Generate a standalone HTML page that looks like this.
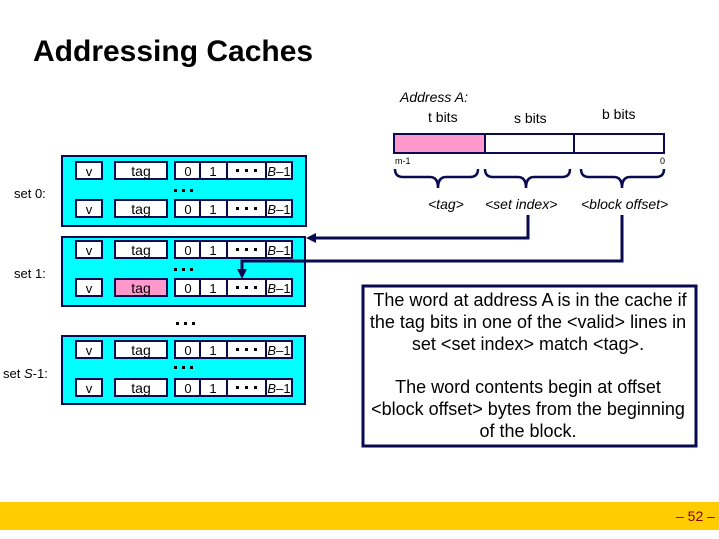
<!DOCTYPE html>
<html><head><meta charset="utf-8"><style>
html,body{margin:0;padding:0;background:#fff;}
svg{display:block;font-family:"Liberation Sans",Arial,sans-serif;}
</style></head><body>
<svg width="719" height="539" viewBox="0 0 719 539" xmlns="http://www.w3.org/2000/svg">
<text x="33" y="61" font-size="30" font-weight="bold" fill="#000">Addressing  Caches</text>

<defs>
<g id="row">
  <rect x="76" y="0" width="26" height="17" fill="#fff" stroke="#0a0a50" stroke-width="2"/>
  <rect x="115" y="0" width="52" height="17" fill="#fff" stroke="#0a0a50" stroke-width="2"/>
  <rect x="175" y="0" width="117" height="17" fill="#fff" stroke="#0a0a50" stroke-width="2"/>
  <line x1="200" y1="0" x2="200" y2="17" stroke="#0a0a50" stroke-width="2"/>
  <line x1="227" y1="0" x2="227" y2="17" stroke="#0a0a50" stroke-width="2"/>
  <line x1="266" y1="0" x2="266" y2="17" stroke="#0a0a50" stroke-width="2"/>
  <text x="89" y="14" font-size="13" text-anchor="middle">v</text>
  <text x="141" y="14" font-size="14" text-anchor="middle">tag</text>
  <text x="188" y="14" font-size="13" text-anchor="middle">0</text>
  <text x="213" y="14" font-size="13" text-anchor="middle">1</text>
  <rect x="236" y="7" width="3" height="3" fill="#000"/>
  <rect x="245" y="7" width="3" height="3" fill="#000"/>
  <rect x="254" y="7" width="3" height="3" fill="#000"/>
  <text x="279" y="14" font-size="13" text-anchor="middle"><tspan font-style="italic">B</tspan>–1</text>
</g>
<g id="dots">
  <rect x="0" y="0" width="3" height="3" fill="#000"/>
  <rect x="8" y="0" width="3" height="3" fill="#000"/>
  <rect x="16" y="0" width="3" height="3" fill="#000"/>
</g>
</defs>

<rect x="62" y="156" width="244" height="70" fill="#00ffff" stroke="#0a0a50" stroke-width="2"/>
<use href="#row" y="162"/>
<use href="#dots" x="174" y="189"/>
<use href="#row" y="200"/>
<text x="14" y="198" font-size="13">set 0:</text>

<rect x="62" y="237" width="243" height="69" fill="#00ffff" stroke="#0a0a50" stroke-width="2"/>
<use href="#row" y="241"/>
<use href="#dots" x="174" y="268"/>
<use href="#row" y="279"/>
<rect x="116" y="280" width="50" height="15" fill="#ff99cc"/>
<text x="141" y="293" font-size="14" text-anchor="middle">tag</text>
<text x="14" y="278" font-size="13">set 1:</text>

<use href="#dots" x="176" y="322"/>

<rect x="62" y="336" width="243" height="68" fill="#00ffff" stroke="#0a0a50" stroke-width="2"/>
<use href="#row" y="341"/>
<use href="#dots" x="174" y="366"/>
<use href="#row" y="379"/>
<text x="3" y="378" font-size="13">set <tspan font-style="italic">S</tspan>-1:</text>

<text x="400" y="102" font-size="14" font-style="italic">Address A:</text>
<text x="428" y="122" font-size="14">t bits</text>
<text x="514" y="123" font-size="14">s bits</text>
<text x="602" y="119" font-size="14">b bits</text>
<rect x="394" y="134" width="91" height="19" fill="#ff99cc"/>
<rect x="394" y="134" width="270" height="19" fill="none" stroke="#0a0a50" stroke-width="2"/>
<line x1="485" y1="134" x2="485" y2="153" stroke="#0a0a50" stroke-width="2"/>
<line x1="574" y1="134" x2="574" y2="153" stroke="#0a0a50" stroke-width="2"/>
<text x="395" y="164" font-size="9">m-1</text>
<text x="660" y="164" font-size="9">0</text>
<g fill="none" stroke="#0a0a50" stroke-width="2.5">
  <path d="M395 169 Q395 177 403 177 L430 177 Q438 177 438 188 Q438 177 446 177 L470 177 Q478 177 478 169"/>
  <path d="M485 169 Q485 177 493 177 L518 177 Q526 177 526 188 Q526 177 534 177 L562 177 Q570 177 570 169"/>
  <path d="M581 169 Q581 177 589 177 L614 177 Q622 177 622 188 Q622 177 630 177 L656 177 Q664 177 664 169"/>
</g>
<text x="428" y="209" font-size="14" font-style="italic">&lt;tag&gt;</text>
<text x="485" y="209" font-size="14" font-style="italic">&lt;set index&gt;</text>
<text x="581" y="209" font-size="14" font-style="italic">&lt;block offset&gt;</text>

<g fill="none" stroke="#0a0a50" stroke-width="3">
  <polyline points="528,215 528,238 314,238"/>
  <polyline points="622,215 622,261 242,261 242,270"/>
</g>
<polygon points="306,238 316,233 316,243" fill="#0a0a50"/>
<polygon points="242,279 237,269 247,269" fill="#0a0a50"/>

<rect x="363" y="286" width="333" height="160" fill="#fff" stroke="#0a0a50" stroke-width="3"/>
<g font-size="18" text-anchor="middle" fill="#000">
  <text x="530" y="306">The word at address A is in the cache if</text>
  <text x="528" y="328">the tag bits in one of the &lt;valid&gt; lines in</text>
  <text x="528" y="350">set &lt;set index&gt; match &lt;tag&gt;.</text>
  <text x="528" y="393">The word contents begin at offset</text>
  <text x="528" y="415">&lt;block offset&gt; bytes from the beginning</text>
  <text x="528" y="437">of the block.</text>
</g>

<rect x="0" y="502" width="719" height="28" fill="#ffcc00"/>
<text x="676" y="521" font-size="14" fill="#800000">– 52 –</text>
</svg>
</body></html>
